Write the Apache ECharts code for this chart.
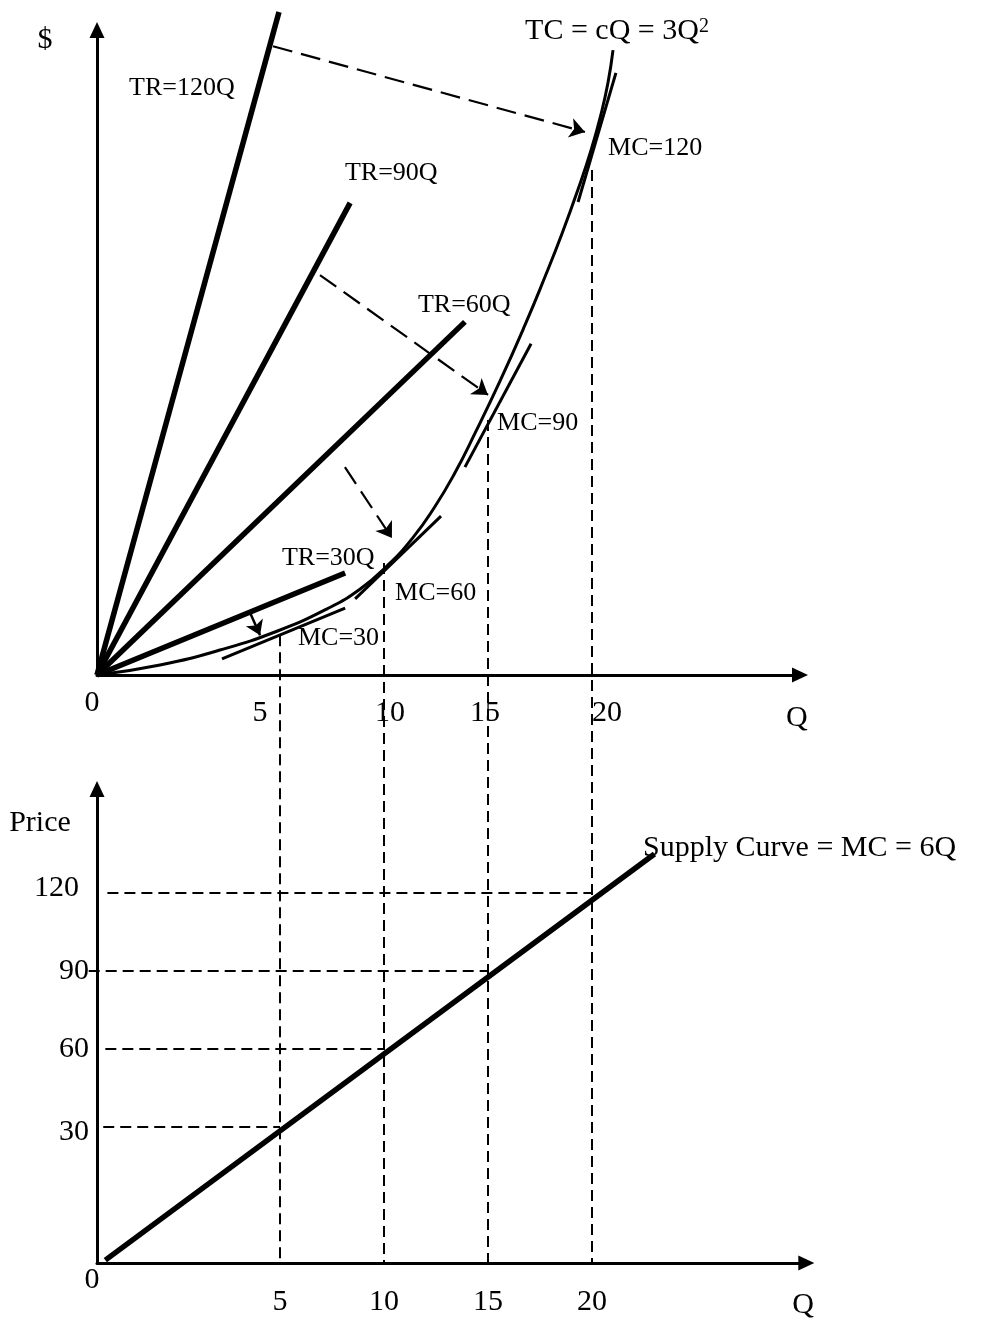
<!DOCTYPE html>
<html>
<head>
<meta charset="utf-8">
<script src="https://cdn.jsdelivr.net/npm/echarts@6/dist/echarts.min.js"></script>
<style>
html,body{margin:0;padding:0;background:#fff;}
#c{width:983px;height:1320px;}
</style>
</head>
<body>
<div id="c"></div>
<script>
// ---------------- data ----------------
const qTicks = [5, 10, 15, 20];
const priceTicks = [30, 60, 90, 120];
const qOrigin = -3.8;      // Q value at the drawn origin corner
const pOrigin = -22.3;     // price value at the lower panel's drawn origin corner

const trNames = ['TR=120Q', 'TR=90Q', 'TR=60Q', 'TR=30Q'];
const trEndQ = [4.95, 8.37, 13.89, 8.13];
const trEndD = [1515, 1079, 807, 233];

const tcQ = [-3.8, -0.77, 2.11, 4.85, 7.26, 8.84, 10.14, 11.39, 12.45, 13.41, 14.37,
             15.58, 16.78, 17.74, 18.56, 19.33, 19.95, 20.43, 20.77, 21.01];
const tcD = [0, 23, 57, 100, 151, 196, 249, 314, 385, 462, 552,
             672, 800, 910, 1009, 1110, 1199, 1281, 1354, 1428];

const mcNames = ['MC=30', 'MC=60', 'MC=90', 'MC=120'];
const mcStartQ = [2.21, 8.61, 13.89, 19.33];
const mcStartD = [37, 174, 475, 1081];
const mcEndQ = [8.13, 12.74, 17.07, 21.15];
const mcEndD = [153, 363, 757, 1376];

const dropTopD = [91, 256, 583, 1154];   // where the dropped guides leave the TC curve

const arrowFromQ = [4.66, 6.92, 8.12, 3.56];
const arrowFromD = [1437, 914, 475, 142];
const arrowToQ = [19.66, 15.0, 10.38, 4.04];
const arrowToD = [1241, 640, 313, 91];

const supplyQ = [-3.4, 23.0];
const supplyP = [-21.2, 135];
const priceGuideStartQ = [-3.5, -3.4, -4.2, -3.3];   // for 30, 60, 90, 120

// ---------------- layout / style ----------------
const FONT = 'Liberation Serif';
const BIG = 30, SMALL = 26;
const BLACK = '#000';
const layout = { left: 97, top0: 30, height0: 645, width0: 703, top1: 789, height1: 474, width1: 709.3 };
const range = { qMax0: 30.0, qMax1: 30.3, dMax: 1474, pMax: 160 };
// $ value (upper panel) that lines up with the lower panel's Q axis
const guideBottomD = range.dMax - ((layout.top1 + layout.height1) - layout.top0) / layout.height0 * range.dMax;

// small hand-drawn nudges of the tick labels (padding, px)
const topTickPad = { 5: [0, 40, 0, 0], 10: [0, 0, 0, 12], 15: [0, 6, 0, 0], 20: [0, 0, 0, 30] };
const priceTickPad = { 30: [10, 0, 0, 0], 60: [0, 0, 0, 0], 90: [0, 0, 0, 0], 120: [0, 10, 10, 0] };

const topNotes = [
  { text: '$', at: [-6.30, 1451], pos: 'inside', size: BIG },
  { text: trNames[0], at: [-2.26, 1342], pos: 'right', size: SMALL },
  { text: trNames[1], at: [8.12, 1147], pos: 'right', size: SMALL },
  { text: trNames[2], at: [11.63, 846], pos: 'right', size: SMALL },
  { text: trNames[3], at: [5.09, 267], pos: 'right', size: SMALL },
  { text: '{m|TC = cQ = 3Q}{s|2}', at: [16.78, 1471], pos: 'right', size: BIG },
  { text: mcNames[3], at: [20.77, 1204], pos: 'right', size: SMALL },
  { text: mcNames[2], at: [15.43, 576], pos: 'right', size: SMALL },
  { text: mcNames[1], at: [10.53, 187], pos: 'right', size: SMALL },
  { text: mcNames[0], at: [5.86, 85], pos: 'right', size: SMALL },
  { text: '0', at: [-4.04, -64], pos: 'inside', size: BIG },
  { text: 'Q', at: [29.85, -98], pos: 'inside', size: BIG }
];
const bottomNotes = [
  { text: 'Price', at: [-6.54, 146.9], pos: 'inside', size: BIG },
  { text: 'Supply Curve = MC = 6Q', at: [22.45, 137.3], pos: 'right', size: BIG },
  { text: '0', at: [-4.04, -28.8], pos: 'inside', size: BIG },
  { text: 'Q', at: [30.14, -38.5], pos: 'inside', size: BIG }
];

function noteSeries(notes, idx) {
  return {
    type: 'scatter', xAxisIndex: idx, yAxisIndex: idx, clip: false, silent: true,
    symbolSize: 0.1, itemStyle: { color: 'transparent', opacity: 1 }, z: 10,
    data: notes.map(n => ({
      value: n.at,
      label: {
        show: true, formatter: n.text, position: n.pos, distance: 0, opacity: 1,
        fontFamily: FONT, fontSize: n.size, color: BLACK,
        rich: {
          m: { fontFamily: FONT, fontSize: BIG, color: BLACK },
          s: { fontFamily: FONT, fontSize: 20, color: BLACK, verticalAlign: 'top' }
        }
      }
    }))
  };
}

function segs(idx, data, lineStyle, extra) {
  return Object.assign({
    type: 'lines', coordinateSystem: 'cartesian2d', xAxisIndex: idx, yAxisIndex: idx,
    clip: false, silent: true, symbol: 'none', polyline: false,
    lineStyle: Object.assign({ color: BLACK, opacity: 1, curveness: 0 }, lineStyle),
    data: data
  }, extra || {});
}

const axisLineStyle = () => ({
  onZero: false, symbol: ['none', 'triangle'], symbolSize: [15, 16],
  lineStyle: { color: BLACK, width: 3 }
});

function tickRich(values, pads) {
  const rich = {};
  values.forEach(v => {
    rich['t' + v] = { fontFamily: FONT, fontSize: BIG, color: BLACK, padding: pads[v] };
  });
  return rich;
}

const option = {
  animation: false,
  backgroundColor: '#fff',
  grid: [
    { left: layout.left, top: layout.top0, width: layout.width0, height: layout.height0, containLabel: false, outerBoundsMode: 'none' },
    { left: layout.left, top: layout.top1, width: layout.width1, height: layout.height1, containLabel: false, outerBoundsMode: 'none' }
  ],
  xAxis: [
    { gridIndex: 0, type: 'value', min: qOrigin, max: range.qMax0,
      axisLine: axisLineStyle(), axisTick: { show: false }, splitLine: { show: false },
      axisLabel: { customValues: qTicks, margin: 23, fontFamily: FONT, fontSize: BIG, color: BLACK,
        formatter: v => '{t' + v + '|' + v + '}', rich: tickRich(qTicks, topTickPad) } },
    { gridIndex: 1, type: 'value', min: qOrigin, max: range.qMax1,
      axisLine: axisLineStyle(), axisTick: { show: false }, splitLine: { show: false },
      axisLabel: { customValues: qTicks, margin: 24, fontFamily: FONT, fontSize: BIG, color: BLACK } }
  ],
  yAxis: [
    { gridIndex: 0, type: 'value', min: 0, max: range.dMax,
      axisLine: axisLineStyle(), axisTick: { show: false }, splitLine: { show: false },
      axisLabel: { show: false } },
    { gridIndex: 1, type: 'value', min: pOrigin, max: range.pMax,
      axisLine: axisLineStyle(), axisTick: { show: false }, splitLine: { show: false },
      axisLabel: { customValues: priceTicks, margin: 8, fontFamily: FONT, fontSize: BIG, color: BLACK,
        formatter: v => '{t' + v + '|' + v + '}', rich: tickRich(priceTicks, priceTickPad) } }
  ],
  series: [
    // dropped guides from the TC tangency points to the lower Q axis
    segs(0, qTicks.map((q, i) => ({ coords: [[q, dropTopD[i]], [q, guideBottomD]] })),
      { width: 2, type: [11, 6] }, { z: 1 }),
    // TR rays
    segs(0, trNames.map((n, i) => ({ name: n, coords: [[qOrigin, 0], [trEndQ[i], trEndD[i]]] })),
      { width: 5.5 }, { z: 4 }),
    // TC curve
    { type: 'line', xAxisIndex: 0, yAxisIndex: 0, silent: true, clip: false,
      data: tcQ.map((q, i) => [q, tcD[i]]), smooth: 0.5, showSymbol: false, symbol: 'none',
      lineStyle: { color: BLACK, width: 3 }, z: 3 },
    // MC tangents
    segs(0, mcNames.map((n, i) => ({ name: n, coords: [[mcStartQ[i], mcStartD[i]], [mcEndQ[i], mcEndD[i]]] })),
      { width: 3 }, { z: 3 }),
    // dashed arrows
    segs(0, [0, 1, 2].map(i => ({ coords: [[arrowFromQ[i], arrowFromD[i]], [arrowToQ[i], arrowToD[i]]] })),
      { width: 2.2, type: [20, 9] }, { symbol: ['none', 'arrow'], symbolSize: 15, z: 5 }),
    // short solid arrow
    segs(0, [3].map(i => ({ coords: [[arrowFromQ[i], arrowFromD[i]], [arrowToQ[i], arrowToD[i]]] })),
      { width: 2.5 }, { symbol: ['none', 'arrow'], symbolSize: 14, z: 5 }),
    noteSeries(topNotes, 0),

    // lower panel: price guides
    segs(1, priceTicks.map((p, i) => ({ coords: [[priceGuideStartQ[i], p], [qTicks[i], p]] })),
      { width: 2, type: [11, 6] }, { z: 1 }),
    // supply curve
    { type: 'line', xAxisIndex: 1, yAxisIndex: 1, silent: true, clip: false,
      data: supplyQ.map((q, i) => [q, supplyP[i]]), showSymbol: false, symbol: 'none',
      lineStyle: { color: BLACK, width: 5.5 }, z: 4 },
    noteSeries(bottomNotes, 1)
  ]
};

const chart = echarts.init(document.getElementById('c'));
chart.setOption(option);
</script>
</body>
</html>
